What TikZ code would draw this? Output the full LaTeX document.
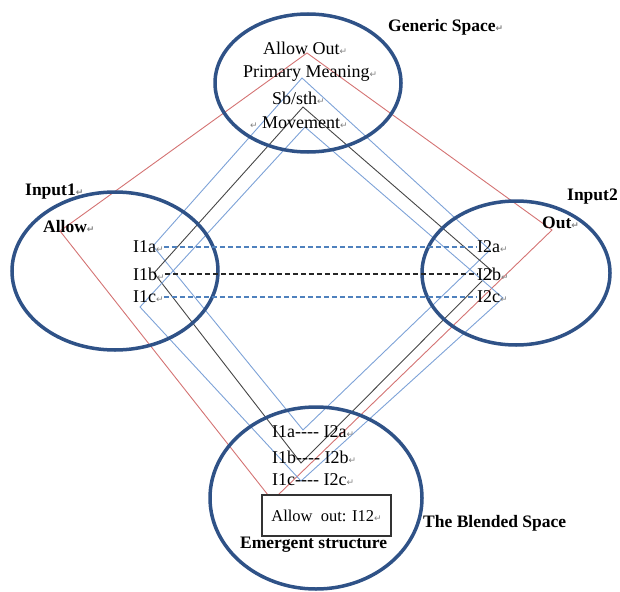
\documentclass[tikz,border=0pt]{standalone}
\usepackage{fontspec}
\setmainfont{Liberation Serif}
\newfontfamily\markfont{DejaVu Sans}
\definecolor{spaceblue}{RGB}{47,82,135}
\definecolor{lineblue}{RGB}{125,162,215}
\definecolor{linered}{RGB}{212,115,115}
\definecolor{linegray}{RGB}{70,70,70}
\definecolor{dashblue}{RGB}{79,129,189}
\newcommand{\parmark}{{\markfont\fontsize{9}{9}\selectfont\textcolor{gray}{↵}}}

\begin{document}
\begin{tikzpicture}[x=1pt, y=-1pt,
  every node/.style={inner sep=0pt, anchor=west, font=\fontsize{18}{20}\selectfont},
  title/.style={font=\fontsize{17.5}{20}\selectfont\bfseries},
  spaceoval/.style={draw=spaceblue, line width=3.5pt},
  redline/.style={draw=linered, line width=0.9pt},
  blueline/.style={draw=lineblue, line width=0.9pt},
  blackline/.style={draw=linegray, line width=0.9pt},
  bluedash/.style={draw=dashblue, line width=1.1pt, dash pattern=on 5pt off 3pt},
  blackdash/.style={draw=black!85, line width=1.3pt, dash pattern=on 5pt off 3pt}]
  \useasboundingbox (0,0) rectangle (620,591);
  \coordinate (gR) at (307,53);
  \coordinate (gA) at (302,78);
  \coordinate (gB) at (303,107);
  \coordinate (gC) at (305,127);
  \coordinate (allowPt) at (60,231);
  \coordinate (outPt) at (552,230);
  \coordinate (i1a) at (153,246);
  \coordinate (i1b) at (154,273);
  \coordinate (i1c) at (140,307);
  \coordinate (i2a) at (490,250);
  \coordinate (i2b) at (492,271);
  \coordinate (i2c) at (503,298);
  \coordinate (bA) at (303,430);
  \coordinate (bB) at (301,463);
  \coordinate (bC) at (301,481);
  \coordinate (bR1) at (268,495);
  \coordinate (bR2) at (278,495);
  \draw[redline] (bR1) -- (allowPt) -- (gR) -- (outPt) -- (bR2);
  \draw[blueline] (gA) -- (i1a) -- (bA) -- (i2a) -- cycle;
  \draw[blackline] (gB) -- (i1b) -- (bB) -- (i2b) -- cycle;
  \draw[blueline] (gC) -- (i1c) -- (bC) -- (i2c) -- cycle;
  \draw[spaceoval] (308,83) ellipse [x radius=93pt, y radius=69pt];
  \draw[spaceoval] (115,271) ellipse [x radius=103pt, y radius=79pt];
  \draw[spaceoval] (516,273) ellipse [x radius=94pt, y radius=72pt];
  \draw[spaceoval] (316,498) ellipse [x radius=106pt, y radius=91pt];
  \node[title] (genericTitle) at (388,27) {Generic Space\parmark};
  \node (genAllowOut) at (263,48) {Allow Out\parmark};
  \node (genPrimary) at (243,73) {Primary Meaning\parmark};
  \node (genSbSth) at (272,98) {Sb/sth\parmark};
  \node (genMovement) at (250,123) {\parmark\ Movement\parmark};
  \node[title] (input1Title) at (25,192) {Input1\parmark};
  \node[title] (allowLbl) at (43,227) {Allow\parmark};
  \node (i1aLbl) at (133,247) {I1a\parmark};
  \node (i1bLbl) at (133,274) {I1b\parmark};
  \node (i1cLbl) at (133,297) {I1c\parmark};
  \node[title] (input2Title) at (567,197) {Input2};
  \node[title] (outLbl) at (542,223) {Out\parmark};
  \node (i2aLbl) at (477,247) {I2a\parmark};
  \node (i2bLbl) at (477,274) {I2b\parmark};
  \node (i2cLbl) at (477,297) {I2c\parmark};
  \draw[bluedash] (i1aLbl.east) -- (i2aLbl.west);
  \draw[blackdash] (i1bLbl.east) -- (i2bLbl.west);
  \draw[bluedash] (i1cLbl.east) -- (i2cLbl.west);
  \node (blendA) at (272,432) {I1a{-}{-}{-}{-} I2a\parmark};
  \node (blendB) at (272,457) {I1b{-}{-}{-}{-} I2b\parmark};
  \node (blendC) at (272,480) {I1c{-}{-}{-}{-} I2c\parmark};
  \node[draw=black!80, line width=1.2pt, fill=white, anchor=center, minimum width=129pt, minimum height=41pt,
    font=\fontsize{16.5}{18}\selectfont] (emergentBox) at (326.5,515.5) {Allow\ \ out: I12\parmark};
  \node[title] (emergentLbl) at (240,545) {Emergent structure};
  \node[title] (blendedTitle) at (423,523) {The Blended Space};
\end{tikzpicture}
\end{document}
